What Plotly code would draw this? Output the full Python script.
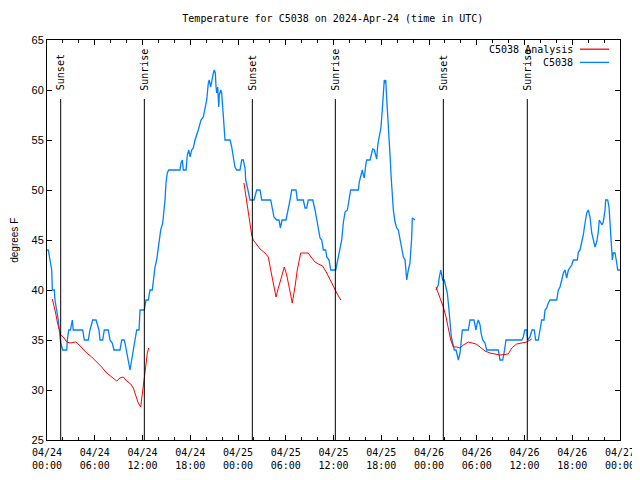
import pandas as pd
import plotly.graph_objects as go

START = pd.Timestamp("2024-04-24 00:00")

# C5038 observations (hours since 04/24 00:00 UTC, degrees F); segments separated by gaps
blue_h1 = [0, 0.16, 0.38, 0.59, 0.67, 0.92, 1.0, 1.22, 1.42, 1.55, 1.72, 1.97, 2.48, 2.55, 2.73, 2.95,
           3.18, 3.30, 4.49, 4.69, 5.19, 5.40, 5.74, 6.16, 6.32, 6.53, 6.66, 7.0, 7.2, 7.7, 7.92, 8.2,
           8.42, 9.17, 9.39, 9.68, 9.8, 10.09, 10.43, 10.64, 10.84, 11.18, 11.27, 11.56, 11.69, 12.23,
           12.31, 12.44, 12.73, 12.94, 13.23, 13.36, 13.57, 13.78, 13.99, 14.2, 14.29, 14.54, 14.7,
           14.83, 14.95, 15.12, 15.29, 16.71, 16.84, 17.0, 17.13, 17.47, 17.63, 17.81, 17.97, 18.18,
           18.38, 18.6, 19.01, 19.35, 19.64, 19.85, 20.07, 20.27, 20.39, 20.57, 20.7, 20.9, 21.02,
           21.15, 21.24, 21.32, 21.45, 21.58, 21.65, 21.83, 21.95, 22.08, 22.24, 22.37, 23.0, 23.21,
           23.41, 23.62, 23.84, 24.25, 24.46, 24.67, 24.88, 24.97, 25.17, 25.35, 25.51, 26.01, 26.35,
           26.77, 26.98, 28.11, 28.31, 28.52, 28.86, 29.15, 29.32, 29.53, 30.03, 30.32, 30.54, 30.75,
           31.29, 31.45, 32.21, 32.42, 32.63, 32.83, 33.39, 33.68, 33.89, 34.09, 34.31, 34.52, 34.72,
           35.02, 35.15, 35.44, 35.65, 36.28, 36.4, 36.6, 36.82, 37.03, 37.23, 37.45, 37.74, 37.95,
           38.16, 39.12, 39.24, 39.46, 39.62, 39.75, 39.87, 40.05, 40.17, 40.59, 40.8, 40.93, 41.13,
           41.3, 41.43, 41.56, 41.72, 41.84, 41.97, 42.13, 42.26, 42.38, 42.47, 42.56, 42.68, 42.85,
           42.98, 43.14, 43.23, 43.39, 43.52, 43.73, 43.94, 44.14, 44.36, 44.57, 44.78, 44.99, 45.2,
           45.4, 45.61, 45.83, 45.9, 46.24]
blue_v1 = [44, 44, 43, 42, 40, 40, 39, 38, 37, 36, 34.7, 34, 34, 35, 36, 36,
           37, 36, 36, 35, 35, 36, 37, 37, 36.5, 36, 35, 35, 36, 36, 35, 34.7,
           34, 34, 35, 35, 34.7, 33.3, 32, 33, 34, 35.3, 36, 36, 38, 38,
           38.3, 39, 39, 40, 40, 41, 42.3, 43, 44.5, 45.7, 46, 46.7, 47.7,
           49, 50.7, 51.7, 52, 52, 52.7, 53, 52, 52, 53.5, 54, 53.3, 54,
           54.2, 55, 56, 57, 57.3, 58, 59, 60.7, 61, 60.3, 61, 61.7, 62,
           61.7, 60.3, 59.7, 60.3, 58.3, 59.5, 60, 59.7, 58.3, 56, 55, 55, 54.3,
           53.3, 52.3, 52, 52, 53, 53, 52.2, 51, 50.3, 49.5, 49, 49, 50,
           50, 49, 49, 48.2, 47.3, 47, 47, 46.2, 47, 47, 48, 49, 50,
           50, 49, 49, 48.2, 48.2, 49, 49, 48, 47, 46, 45.2, 45, 44,
           44, 43.3, 43, 42, 42, 42.5, 43.3, 44.2, 45, 46.7, 47.8, 48, 49,
           50, 50, 50.8, 51.5, 52, 51.5, 51.2, 52.5, 53, 53, 53.8, 54.1, 54,
           53.5, 53.1, 54.5, 55.3, 55.8, 56.3, 58, 60, 61, 60.7, 61, 59.2, 57.2,
           55.2, 53, 51.5, 49.7, 48, 46.8, 46.2, 46, 45, 44.3, 43.3, 43, 41,
           42, 42.7, 45.3, 47.2, 47]
blue_h2 = [48.88, 49.17, 49.3, 49.47, 49.6, 49.72, 49.92, 50.14, 50.3, 50.48, 50.64, 50.81, 50.98,
           51.18, 51.4, 51.56, 51.69, 51.9, 52.03, 52.19, 52.94, 53.15, 53.65, 53.9, 54.07, 54.2,
           54.41, 54.54, 54.75, 55.04, 55.25, 56.71, 56.92, 57.26, 57.43, 57.68, 59.65, 59.85, 60.03,
           60.28, 60.4, 60.69, 60.94, 61.23, 61.4, 61.73, 61.95, 62.16, 62.45, 62.58, 62.79, 62.99,
           63.21, 64.05, 64.25, 64.46, 64.68, 64.88, 65.09, 65.3, 65.51, 65.72, 65.93, 66.14, 66.64,
           66.77, 66.98, 67.19, 67.39, 67.61, 67.82, 68.02, 68.23, 68.45, 68.65, 68.86, 69.07, 69.27,
           69.4, 69.58, 69.74, 69.9, 70.12, 70.2, 70.45, 70.62, 70.74, 70.87, 71.04, 71.16, 71.38,
           71.59, 71.71, 72.0]
blue_v2 = [40, 40.5, 41.3, 42, 41.5, 41, 41, 40.2, 39.7, 38.3, 36.7, 35.3, 34.7,
           34, 34, 33.3, 33, 33.7, 34.5, 36, 36, 37, 37, 36, 36.7, 37,
           36.5, 35.7, 35, 34.7, 34, 34, 33, 33, 33.7, 35, 35, 35.3, 36,
           36, 35, 35.3, 36, 36, 35, 35, 36, 37, 37, 38, 38.2, 38.7,
           39, 39, 40, 40.3, 41, 41.7, 42, 41.2, 42, 42.2, 42.5, 43, 43,
           43.8, 44, 44.8, 45.5, 46.7, 47.7, 48, 47.3, 45.7, 45, 44.3, 44.8, 45.8,
           47, 46.7, 46.5, 46.8, 48, 49, 49, 48.3, 46.8, 45.3, 43, 43.7, 43.7,
           42.7, 42, 42]

# C5038 Analysis
red_h1 = [0.67, 0.88, 1.09, 1.29, 1.51, 1.72, 2.05, 2.48, 2.89, 3.30, 3.61, 3.93, 4.36, 4.99, 5.62,
          6.25, 6.87, 7.5, 8.13, 8.76, 9.17, 9.59, 10.02, 10.52, 10.84, 11.18, 11.47, 11.77, 11.98,
          12.19, 12.4, 12.6, 12.78]
red_v1 = [39.1, 38.5, 37.7, 36.8, 36, 35.5, 35.3, 34.8, 34.7, 34.8, 34.8, 34.6, 34.2, 33.7, 33.3,
          32.8, 32.3, 31.7, 31.3, 30.9, 31.2, 31.3, 30.9, 30.6, 30.2, 29.3, 28.7, 28.3, 29.5,
          30.8, 32.3, 33.7, 34.2]
red_h2 = [24.75, 24.92, 25.09, 25.3, 25.51, 25.72, 25.92, 26.35, 26.77, 27.39, 27.81, 28.11, 28.44,
          28.78, 29.07, 29.49, 29.82, 30.12, 30.45, 30.82, 31.16, 31.45, 31.88, 32.29, 32.83, 33.17,
          33.68, 34.09, 34.64, 35.15, 35.56, 36.06, 36.48, 36.91]
red_v2 = [50.7, 49.7, 48.7, 47.7, 46.7, 45.5, 45, 44.5, 44.1, 43.7, 43.3, 42, 40.7,
          39.3, 40.2, 41.5, 42.3, 41.5, 40, 38.7, 40.3, 42, 43.7, 43.7, 43.7, 43.3,
          42.8, 42.6, 42.4, 41.7, 41, 40.2, 39.6, 39]
red_h3 = [48.88, 49.17, 49.47, 49.8, 50.14, 50.43, 50.73, 51.06, 51.48, 51.9, 52.32, 52.94, 53.57,
          53.91, 54.41, 55.04, 55.66, 56.29, 56.92, 57.96, 58.39, 59.02, 59.65, 60.28, 60.91]
red_v3 = [40.3, 39.7, 39, 38.3, 37.3, 36, 35, 34.3, 34.3, 34.2, 34.5, 34.8, 34.7,
          34.6, 34.3, 33.9, 33.7, 33.6, 33.5, 33.6, 34.2, 34.6, 34.7, 34.8, 35.1]

sun_labels = ["Sunset", "Sunrise", "Sunset", "Sunrise", "Sunset", "Sunrise"]
sun_hours = [1.72, 12.23, 25.8, 36.23, 49.8, 60.35]

MONO = "DejaVu Sans Mono"
SANS = "Liberation Sans"


def to_time(hours):
    return [START + pd.Timedelta(hours=h) for h in hours]


def join(*segs):
    xs, ys = [], []
    for i, (h, v) in enumerate(segs):
        if i:
            xs.append(None)
            ys.append(None)
        xs += to_time(h)
        ys += list(v)
    return xs, ys


fig = go.Figure()
bx, by = join((blue_h1, blue_v1), (blue_h2, blue_v2))
rx, ry = join((red_h1, red_v1), (red_h2, red_v2), (red_h3, red_v3))
fig.add_trace(go.Scatter(x=bx, y=by, mode="lines", name="C5038",
                         line=dict(color="rgb(0,128,255)", width=1.3), showlegend=False))
fig.add_trace(go.Scatter(x=rx, y=ry, mode="lines", name="C5038 Analysis",
                         line=dict(color="rgb(255,0,0)", width=1), showlegend=False))

for lab, h in zip(sun_labels, sun_hours):
    t = START + pd.Timedelta(hours=h)
    fig.add_shape(type="line", xref="x", yref="y", x0=t, x1=t, y0=25, y1=59.1,
                  line=dict(color="black", width=1))
    fig.add_annotation(x=t, y=59.75, xref="x", yref="y", text=lab, textangle=-90,
                       showarrow=False, xanchor="center", yanchor="bottom",
                       font=dict(family=MONO, size=10, color="black"))

# legend (gnuplot style: text then line sample)
leg = [("C5038 Analysis", "rgb(255,0,0)", 0.977), ("C5038", "rgb(0,128,255)", 0.944)]
for txt, col, yy in leg:
    fig.add_annotation(x=0.9215, y=yy, xref="paper", yref="paper", text=txt, showarrow=False,
                       xanchor="right", yanchor="middle", font=dict(family=MONO, size=10, color="black"))
    fig.add_shape(type="line", xref="paper", yref="paper", x0=0.930, x1=0.981, y0=yy, y1=yy,
                  line=dict(color=col, width=1.3))

fig.add_annotation(x=-0.058, y=0.5, xref="paper", yref="paper", text="degrees F", textangle=-90,
                   showarrow=False, xanchor="center", yanchor="middle",
                   font=dict(family=SANS, size=10, color="black"))

# page body has an 8px margin, so the figure is offset by 8px right and down
fig.update_layout(
    width=632, height=472,
    margin=dict(l=39, r=20, t=32, b=40, autoexpand=False),
    paper_bgcolor="white", plot_bgcolor="white",
    title=dict(text="Temperature for C5038 on 2024-Apr-24 (time in UTC)", x=0.514, xanchor="center",
               y=0.977, yanchor="middle", font=dict(family=MONO, size=10, color="black")),
    showlegend=False,
)
fig.update_xaxes(
    type="date", range=[START, START + pd.Timedelta(hours=72)], automargin=False,
    dtick=6 * 3600000, tick0=START, tickformat="%m/%d<br>%H:%M", ticklabelstandoff=3,
    ticks="inside", ticklen=5, tickcolor="black", mirror="ticks",
    showline=True, linecolor="black", linewidth=1, showgrid=False, zeroline=False,
    tickfont=dict(family=MONO, size=10, color="black"),
    minor=dict(dtick=2 * 3600000, tick0=START, ticks="inside", ticklen=3, tickcolor="black", showgrid=False),
)
fig.update_yaxes(
    range=[25, 65], dtick=5, ticks="inside", ticklen=5, tickcolor="black", mirror="ticks",
    showline=True, linecolor="black", linewidth=1, showgrid=False, zeroline=False, automargin=False,
    tickfont=dict(family=SANS, size=11, color="black"),
)

fig.write_html("out.html")
